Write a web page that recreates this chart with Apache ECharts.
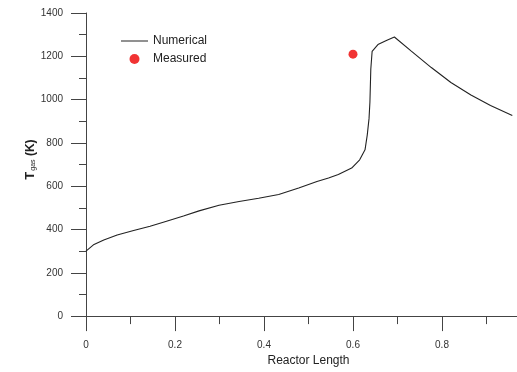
<!DOCTYPE html>
<html>
<head>
<meta charset="utf-8">
<script src="https://cdn.jsdelivr.net/npm/echarts@6/dist/echarts.min.js"></script>
<style>html,body{margin:0;padding:0;background:#fff;overflow:hidden;width:517px;height:372px}#c{width:534px;height:372px}</style>
</head>
<body>
<div id="c"></div>
<script>
var numX = [0, 0.018, 0.040, 0.070, 0.107, 0.144, 0.181, 0.219, 0.254, 0.299, 0.344, 0.388, 0.433, 0.478, 0.519, 0.545, 0.567, 0.597, 0.615, 0.627, 0.632, 0.636, 0.638, 0.640, 0.643, 0.656, 0.675, 0.693, 0.731, 0.776, 0.820, 0.865, 0.909, 0.958];
var numY = [300, 331, 352, 375, 395, 415, 438, 462, 486, 512, 529, 544, 562, 592, 622, 638, 654, 684, 722, 768, 836, 912, 988, 1140, 1223, 1254, 1273, 1289, 1224, 1148, 1079, 1021, 973, 927];
var measX = [0.6];
var measY = [1210];
var xTicks = [0, 0.2, 0.4, 0.6, 0.8];
var yTicks = [0, 200, 400, 600, 800, 1000, 1200, 1400];

var numData = numX.map(function (x, i) { return [x, numY[i]]; });
var measData = measX.map(function (x, i) { return [x, measY[i]]; });
var font = 'Liberation Sans, Arial, sans-serif';
var axisCol = '#444';

var chart = echarts.init(document.getElementById('c'), null, {renderer: 'canvas'});
chart.setOption({
  animation: false,
  backgroundColor: '#fff',
  grid: {left: 86, right: 0, top: 13, bottom: 52, containLabel: false},
  legend: {
    orient: 'vertical', left: 116, top: 30, itemWidth: 27, itemHeight: 10, itemGap: 6,
    textStyle: {fontFamily: font, fontSize: 12, color: '#222'},
    data: [
      {name: 'Numerical', icon: 'path://M0,0L27,0L27,1L0,1Z', itemStyle: {color: '#222'}},
      {name: 'Measured', icon: 'circle'}
    ]
  },
  xAxis: {
    type: 'value', min: 0, max: 1.0, interval: 0.2,
    name: 'Reactor Length', nameLocation: 'middle', nameGap: 36,
    nameTextStyle: {fontFamily: font, fontSize: 12, color: '#222'},
    axisLine: {show: true, onZero: false, lineStyle: {color: axisCol, width: 1}},
    axisTick: {show: true, length: 15, inside: false, lineStyle: {color: axisCol}},
    minorTick: {show: true, splitNumber: 2, length: 8, lineStyle: {color: axisCol}},
    splitLine: {show: false},
    axisLabel: {
      margin: 24, fontFamily: font, fontSize: 10, color: '#333',
      formatter: function (v) {
        for (var i = 0; i < xTicks.length; i++) { if (Math.abs(v - xTicks[i]) < 1e-6) return String(xTicks[i]); }
        return '';
      }
    }
  },
  yAxis: {
    type: 'value', min: 0, max: 1400, interval: 200,
    name: '{t|T}{s|gas}{k| (K)}', nameLocation: 'middle', nameGap: 49, nameRotate: 90,
    nameMoveOverlap: false,
    nameTextStyle: {
      fontFamily: font, color: '#222', padding: [0, 0, 0, 10],
      rich: {
        t: {fontFamily: font, fontSize: 13, fontWeight: 'bold', color: '#222'},
        s: {fontFamily: font, fontSize: 7, color: '#222', verticalAlign: 'bottom', padding: [6, 0, 0, 1]},
        k: {fontFamily: font, fontSize: 12, fontWeight: 'bold', color: '#222'}
      }
    },
    axisLine: {show: true, onZero: false, lineStyle: {color: axisCol, width: 1}},
    axisTick: {show: true, length: 15, inside: false, lineStyle: {color: axisCol}},
    minorTick: {show: true, splitNumber: 2, length: 7, lineStyle: {color: axisCol}},
    splitLine: {show: false},
    axisLabel: {
      margin: 23, fontFamily: font, fontSize: 10, color: '#333',
      formatter: function (v) { return yTicks.indexOf(v) >= 0 ? String(v) : ''; }
    }
  },
  series: [
    {
      name: 'Numerical', type: 'line', data: numData, symbol: 'none', smooth: false,
      lineStyle: {color: '#222', width: 1.1}, itemStyle: {color: '#222'}
    },
    {
      name: 'Measured', type: 'scatter', data: measData, symbol: 'circle', symbolSize: 9,
      itemStyle: {color: '#ee0000'}
    }
  ]
});
</script>
</body>
</html>
